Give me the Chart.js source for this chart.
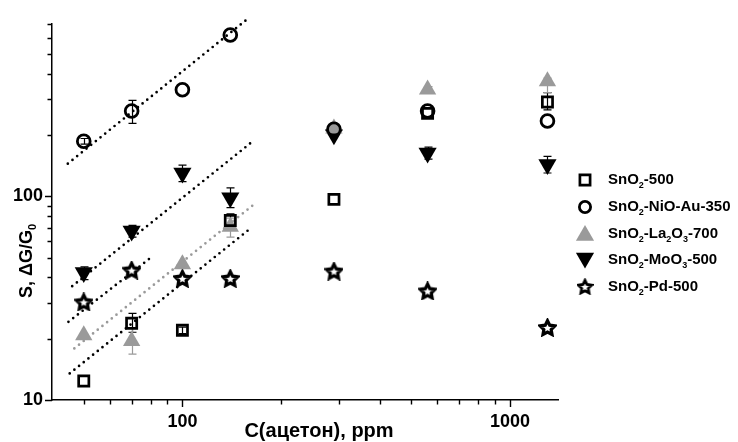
<!DOCTYPE html>
<html><head><meta charset="utf-8">
<script src="https://cdn.jsdelivr.net/npm/chart.js@4/dist/chart.umd.min.js"></script>
<style>html,body{margin:0;padding:0;background:#fff;}#wrap{width:738px;height:442px;position:relative;}</style>
</head><body><div id="wrap"><canvas id="c" width="738" height="442"></canvas></div>
<script>
// ---------------- data ----------------
const concentrations = [50, 70, 100, 140, 290, 560, 1300];
const sno2_500        = [12.4, 23.8, 22.0, 76, 96.5, 255, 290];
const sno2_nio_au_350 = [186, 262, 333, 618, 213, 262, 234];
const sno2_la2o3_700  = [20.8, 19.5, 46.3, 70.9, 215, 334, 367];
const sno2_moo3_500   = [42.2, 67.5, 130, 98.3, 200, 163, 143];
const sno2_pd_500     = [30.3, 43.4, 39.5, 39.5, 42.9, 34.3, 22.7];

// error bars: [low, high] or null
const err_sno2_500        = [null, [21.5, 26.6], [21.2, 22.8], [70, 82], null, null, [265, 322]];
const err_sno2_nio_au_350 = [[180, 192], [228, 295], null, null, null, null, null];
const err_sno2_la2o3_700  = [null, [16.8, 22.5], null, [63, 78], null, [320, 345], [322, 380]];
const err_sno2_moo3_500   = [[39, 45], [63, 72], [118, 142], [88, 110], null, [152, 174], [130, 157]];

// dotted fit lines (two end points each)
const fit_nio_au = [[44.7, 144.5], [160.6, 757]];
const fit_moo3   = [[46.1, 36.2], [165.3, 188]];
const fit_pd     = [[44.9, 24.2], [81.3, 50.9]];
const fit_la2o3  = [[46.8, 17.9], [167.5, 92.7]];
const fit_500    = [[45.3, 13.5], [162.5, 70.2]];

const seriesLabels = ['SnO_2-500', 'SnO_2-NiO-Au-350', 'SnO_2-La_2O_3-700', 'SnO_2-MoO_3-500', 'SnO_2-Pd-500'];
const xTickValues = [50, 60, 70, 80, 90, 100, 200, 300, 400, 500, 600, 700, 800, 900, 1000];
const xTickLabels = {100: '100', 1000: '1000'};
const yTickValues = [10, 20, 30, 40, 50, 60, 70, 80, 90, 100, 200, 300, 400, 500, 600, 700];
const yTickLabels = {10: '10', 100: '100'};
const xTitle = 'C(ацетон), ppm';
const yTitle = 'S, ΔG/G_0';

// ---------------- helpers ----------------
const FONT = '"Liberation Sans", Arial, Helvetica, sans-serif';
const GRAY = '#9a9a9a';

function makeStar(size, lw, ratio) {
  const c = document.createElement('canvas');
  c.width = c.height = size;
  const g = c.getContext('2d');
  const R = size / 2 - lw / 2 - 0.2, r = R * ratio;
  g.beginPath();
  for (let k = 0; k < 10; k++) {
    const a = -Math.PI / 2 + k * Math.PI / 5;
    const rr = k % 2 ? r : R;
    g.lineTo(size / 2 + rr * Math.cos(a), size / 2 + 0.8 + rr * Math.sin(a));
  }
  g.closePath();
  g.fillStyle = '#fff';
  g.fill();
  g.lineJoin = 'miter';
  g.miterLimit = 3;
  g.lineWidth = lw;
  g.strokeStyle = '#000';
  g.stroke();
  return c;
}
const starImg = makeStar(19, 3.2, 0.5);
const starLegendImg = makeStar(17, 2.8, 0.5);

function pts(xs, ys) { return xs.map((x, i) => ({x: x, y: ys[i]})); }
function fitPts(f) { return f.map(p => ({x: p[0], y: p[1]})); }

// parse "SnO_2-La_2O_3" into parts with subscripts
function parseRich(s) {
  const parts = [];
  let buf = '';
  for (let i = 0; i < s.length; i++) {
    if (s[i] === '_' && i + 1 < s.length) {
      if (buf) { parts.push({t: buf, sub: false}); buf = ''; }
      parts.push({t: s[i + 1], sub: true});
      i++;
    } else buf += s[i];
  }
  if (buf) parts.push({t: buf, sub: false});
  return parts;
}
function richWidth(ctx, parts, size, subSize) {
  let w = 0;
  parts.forEach(p => { ctx.font = 'bold ' + (p.sub ? subSize : size) + 'px ' + FONT; w += ctx.measureText(p.t).width; });
  return w;
}
function drawRich(ctx, parts, x, y, size, subSize, subDy) {
  ctx.textBaseline = 'middle';
  ctx.textAlign = 'left';
  let cx = x;
  parts.forEach(p => {
    ctx.font = 'bold ' + (p.sub ? subSize : size) + 'px ' + FONT;
    ctx.fillText(p.t, cx, p.sub ? y + subDy : y);
    cx += ctx.measureText(p.t).width;
  });
}

// ---------------- datasets ----------------
const scatterStyles = [
  {pointStyle: 'rect', pointRadius: 7.2, borderWidth: 2.7, borderColor: '#000', backgroundColor: 'rgba(0,0,0,0)'},
  {pointStyle: 'circle', pointRadius: 6.4, borderWidth: 2.8, borderColor: '#000', backgroundColor: 'rgba(0,0,0,0)'},
  {pointStyle: 'triangle', pointRadius: 10, borderWidth: 0, borderColor: GRAY, backgroundColor: GRAY},
  {pointStyle: 'triangle', rotation: 180, pointRadius: 10.5, borderWidth: 0, borderColor: '#000', backgroundColor: '#000'},
  {pointStyle: starImg, pointRadius: 9, borderWidth: 0, borderColor: '#000', backgroundColor: '#000'}
];
const seriesValues = [sno2_500, sno2_nio_au_350, sno2_la2o3_700, sno2_moo3_500, sno2_pd_500];
const seriesErrors = [err_sno2_500, err_sno2_nio_au_350, err_sno2_la2o3_700, err_sno2_moo3_500, null];
const errColors = ['#000', '#000', GRAY, '#000', '#000'];

const datasets = seriesValues.map((vals, i) => Object.assign({
  label: seriesLabels[i],
  data: pts(concentrations, vals),
  showLine: false,
  errors: seriesErrors[i],
  errColor: errColors[i]
}, scatterStyles[i], {pointRotation: scatterStyles[i].rotation || 0}));

const fits = [
  {d: fit_nio_au, c: '#000'}, {d: fit_moo3, c: '#000'}, {d: fit_pd, c: '#000'},
  {d: fit_la2o3, c: GRAY}, {d: fit_500, c: '#000'}
];
fits.forEach(f => datasets.push({
  label: '', data: fitPts(f.d), showLine: true, pointRadius: 0, borderColor: f.c,
  borderWidth: 2.7, borderDash: [0, 6], borderCapStyle: 'round', fill: false, clip: false, isFit: true
}));

// ---------------- plugins ----------------
const errorBars = {
  id: 'errorBars',
  beforeDatasetsDraw(chart) {
    const ctx = chart.ctx, xs = chart.scales.x, ys = chart.scales.y;
    ctx.save();
    chart.data.datasets.forEach(ds => {
      if (!ds.errors) return;
      ctx.strokeStyle = ds.errColor; ctx.lineWidth = 1.2;
      ds.errors.forEach((e, i) => {
        if (!e) return;
        const px = Math.round(xs.getPixelForValue(ds.data[i].x)) + 0.5;
        const lo = ys.getPixelForValue(e[0]), hi = ys.getPixelForValue(e[1]);
        ctx.beginPath();
        ctx.moveTo(px, lo); ctx.lineTo(px, hi);
        ctx.moveTo(px - 4, lo); ctx.lineTo(px + 4, lo);
        ctx.moveTo(px - 4, hi); ctx.lineTo(px + 4, hi);
        ctx.stroke();
      });
    });
    ctx.restore();
  }
};

const axisDecor = {
  id: 'axisDecor',
  afterDraw(chart) {
    const ctx = chart.ctx, xs = chart.scales.x, ys = chart.scales.y, a = chart.chartArea;
    ctx.save();
    ctx.strokeStyle = '#000'; ctx.lineWidth = 1.4;
    ctx.beginPath();
    xs.ticks.forEach(t => {
      const px = Math.round(xs.getPixelForValue(t.value)) + 0.5;
      const len = xTickLabels[t.value] ? 7 : 4.5;
      ctx.moveTo(px, a.bottom); ctx.lineTo(px, a.bottom + len);
    });
    ys.ticks.forEach(t => {
      const py = Math.round(ys.getPixelForValue(t.value)) + 0.5;
      const len = yTickLabels[t.value] ? 7 : 4.5;
      ctx.moveTo(a.left, py); ctx.lineTo(a.left - len, py);
    });
    ctx.stroke();

    ctx.fillStyle = '#000';
    // x title
    ctx.font = 'bold 20px ' + FONT;
    ctx.textAlign = 'center'; ctx.textBaseline = 'middle';
    ctx.fillText(xTitle, 319, 431);
    // y title (rotated, with subscript)
    const yp = parseRich(yTitle);
    const w = richWidth(ctx, yp, 18, 11);
    ctx.translate(27, 261);
    ctx.rotate(-Math.PI / 2);
    drawRich(ctx, yp, -w / 2, 0, 18, 11, 6);
    ctx.restore();

    // legend
    ctx.save();
    const lx = 585, tx = 608, rows = [180, 207, 233.5, 260, 286.5];
    chart.data.datasets.forEach((ds, i) => {
      if (ds.isFit) return;
      const y = rows[i];
      if (i === 4) {
        ctx.drawImage(starLegendImg, lx - starLegendImg.width / 2, y - starLegendImg.height / 2);
      } else {
        const st = scatterStyles[i];
        const legR = [7.2, 5.6, 10.5, 10.5][i];
        ctx.fillStyle = st.backgroundColor;
        ctx.strokeStyle = st.borderColor;
        ctx.lineWidth = st.borderWidth;
        Chart.helpers.drawPoint(ctx, {
          pointStyle: st.pointStyle, rotation: st.rotation || 0, radius: legR,
          borderWidth: st.borderWidth
        }, lx, i === 2 ? y + 2 : (i === 3 ? y - 2 : y));
      }
      ctx.fillStyle = '#000';
      drawRich(ctx, parseRich(ds.label), tx, y, 15, 9, 6);
    });
    ctx.restore();
  }
};

new Chart(document.getElementById('c'), {
  type: 'scatter',
  data: {datasets: datasets},
  options: {
    responsive: false, animation: false, devicePixelRatio: 1, events: [],
    layout: {padding: {top: 24, right: 180, left: 0, bottom: 0}},
    plugins: {legend: {display: false}, tooltip: {enabled: false}},
    scales: {
      x: {
        type: 'logarithmic', position: 'bottom', min: 40, max: 1400,
        grid: {display: false, drawTicks: false},
        border: {display: true, color: '#000', width: 1.5},
        afterBuildTicks: s => { s.ticks = xTickValues.map(v => ({value: v})); },
        afterFit: s => { s.height = 42; },
        ticks: {
          autoSkip: false, maxRotation: 0, padding: 11, color: '#000',
          font: {family: FONT, size: 18, weight: 'bold'},
          callback: v => xTickLabels[v] || ''
        }
      },
      y: {
        type: 'logarithmic', position: 'left', min: 10, max: 700,
        grid: {display: false, drawTicks: false},
        border: {display: true, color: '#000', width: 1.5},
        afterBuildTicks: s => { s.ticks = yTickValues.map(v => ({value: v})); },
        afterFit: s => { s.width = 52; },
        ticks: {
          autoSkip: false, padding: 9, color: '#000',
          font: {family: FONT, size: 18, weight: 'bold'},
          callback: v => yTickLabels[v] || ''
        }
      }
    }
  },
  plugins: [errorBars, axisDecor]
});
</script>
</body></html>
